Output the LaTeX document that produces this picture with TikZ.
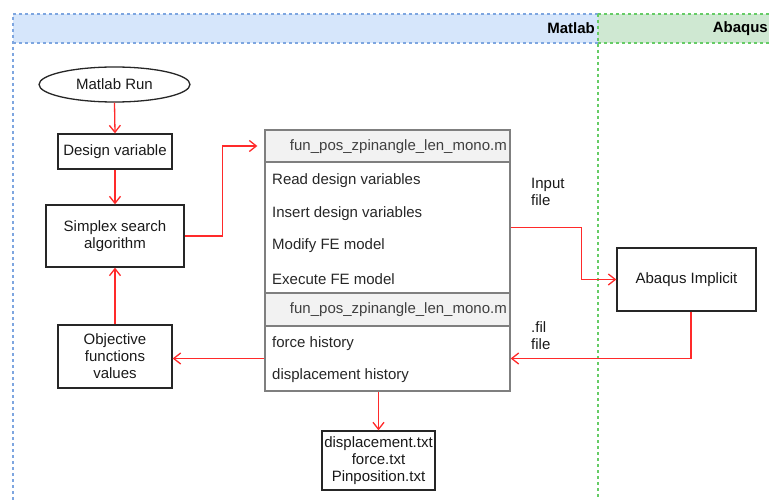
\documentclass[tikz,border=0pt]{standalone}
\usepackage{fontspec}
\setmainfont{Liberation Sans}
\usetikzlibrary{arrows.meta,shapes.geometric,calc}
\definecolor{laneblue}{HTML}{D6E6FB}
\definecolor{lanebluel}{HTML}{7EA6E0}
\definecolor{lanegreen}{HTML}{CFE8D2}
\definecolor{lanegreenl}{HTML}{66CC66}
\definecolor{flow}{HTML}{FF2A2A}
\definecolor{clsline}{HTML}{7F7F7F}
\definecolor{clshead}{HTML}{F2F2F2}
\begin{document}
\begin{tikzpicture}[x=1pt,y=-1pt,
  font=\fontsize{15pt}{17pt}\selectfont,
  box/.style={draw=black!85, line width=1.3pt, rectangle, inner sep=0pt, align=center, text=black!90},
  clsbox/.style={draw=clsline, line width=1.3pt, rectangle, inner sep=0pt},
  clshdr/.style={clsbox, fill=clshead},
  item/.style={anchor=base west, inner sep=0pt, text=black!85},
  flowline/.style={draw=flow, line width=1.3pt, -{Straight Barb[length=7pt,width=11pt,line width=1.3pt]}},
  lbl/.style={anchor=west, inner sep=0pt, align=left, text=black!90},
  bluedash/.style={draw=lanebluel, line width=1.1pt, dash pattern=on 3pt off 3pt},
  greendash/.style={draw=lanegreenl, line width=1.1pt, dash pattern=on 3pt off 3pt},
  lanetitle/.style={inner sep=0pt, font=\fontsize{15pt}{17pt}\selectfont\bfseries}]
\useasboundingbox (0,0) rectangle (769,500);
\begin{scope}
  \clip (0,0) rectangle (769,500);
  \fill[laneblue] (13,14) rectangle (598,43);
  \fill[lanegreen] (598,14) rectangle (790,43);
  \draw[bluedash] (598,14) -- (13,14) -- (13,520);
  \draw[bluedash] (13,43) -- (598,43);
  \draw[greendash] (598,14) -- (790,14);
  \draw[greendash] (598,43) -- (790,43);
  \draw[greendash] (598,14) -- (598,520);
  \node[lanetitle, anchor=east] (tmatlab) at (595,28.5) {Matlab};
  \node[lanetitle, anchor=east] (tabaqus) at (768,28.5) {Abaqus};
\end{scope}

% left column
\node[ellipse, draw=black!85, line width=1.3pt, minimum width=151pt, minimum height=35pt, inner sep=0pt, text=black!90] (run) at (114.5,84.5) {Matlab Run};
\node[box, minimum width=114pt, minimum height=35pt] (design) at (115,151.5) {Design variable};
\node[box, minimum width=138pt, minimum height=62pt] (simplex) at (115,236) {Simplex search\\algorithm};
\node[box, minimum width=114pt, minimum height=63pt] (obj) at (115,356.5) {Objective\\functions\\values};

% class boxes
\node[clshdr, minimum width=245pt, minimum height=32pt] (hdr1) at (387.5,146) {};
\node[clsbox, minimum width=245pt, minimum height=131pt] (body1) at (387.5,227.5) {};
\node[clshdr, minimum width=245pt, minimum height=33pt] (hdr2) at (387.5,309.5) {};
\node[clsbox, minimum width=245pt, minimum height=65pt] (body2) at (387.5,358.5) {};
\node[anchor=east, inner sep=0pt, text=black!75] (h1t) at (507,146.5) {fun\_pos\_zpinangle\_len\_mono.m};
\node[anchor=east, inner sep=0pt, text=black!75] (h2t) at (507,309.5) {fun\_pos\_zpinangle\_len\_mono.m};
\node[item] (i1) at (272,184.5) {Read design variables};
\node[item] (i2) at (272,217.5) {Insert design variables};
\node[item] (i3) at (272,249.5) {Modify FE model};
\node[item] (i4) at (272,284.5) {Execute FE model};
\node[item] (i5) at (272,347.5) {force history};
\node[item] (i6) at (272,379.5) {displacement history};

% output and Abaqus
\node[box, minimum width=113pt, minimum height=59pt] (out) at (378.5,460.5) {displacement.txt\\force.txt\\Pinposition.txt};
\node[box, minimum width=139pt, minimum height=63pt] (abaqus) at (686.5,279.5) {Abaqus Implicit};

% labels
\node[lbl] (linput) at (531,192) {Input\\file};
\node[lbl] (lfil) at (531,335.5) {.fil\\file};

% connectors
\draw[flowline] (run.south) -- (design.north);
\draw[flowline] (design.south) -- (simplex.north);
\draw[flowline] (obj.north) -- (simplex.south);
\draw[flowline] (simplex.east) -- ++(38,0) |- ([xshift=-7pt]hdr1.west);
\draw[flowline] (body1.east) -- ++(71,0) |- (abaqus.west);
\draw[flowline] ([xshift=4.5pt]abaqus.south) |- (body2.east);
\draw[flowline] (body2.west) -- (body2.west -| obj.east);
\draw[flowline] (body2.south -| out.north) -- (out.north);
\end{tikzpicture}
\end{document}
